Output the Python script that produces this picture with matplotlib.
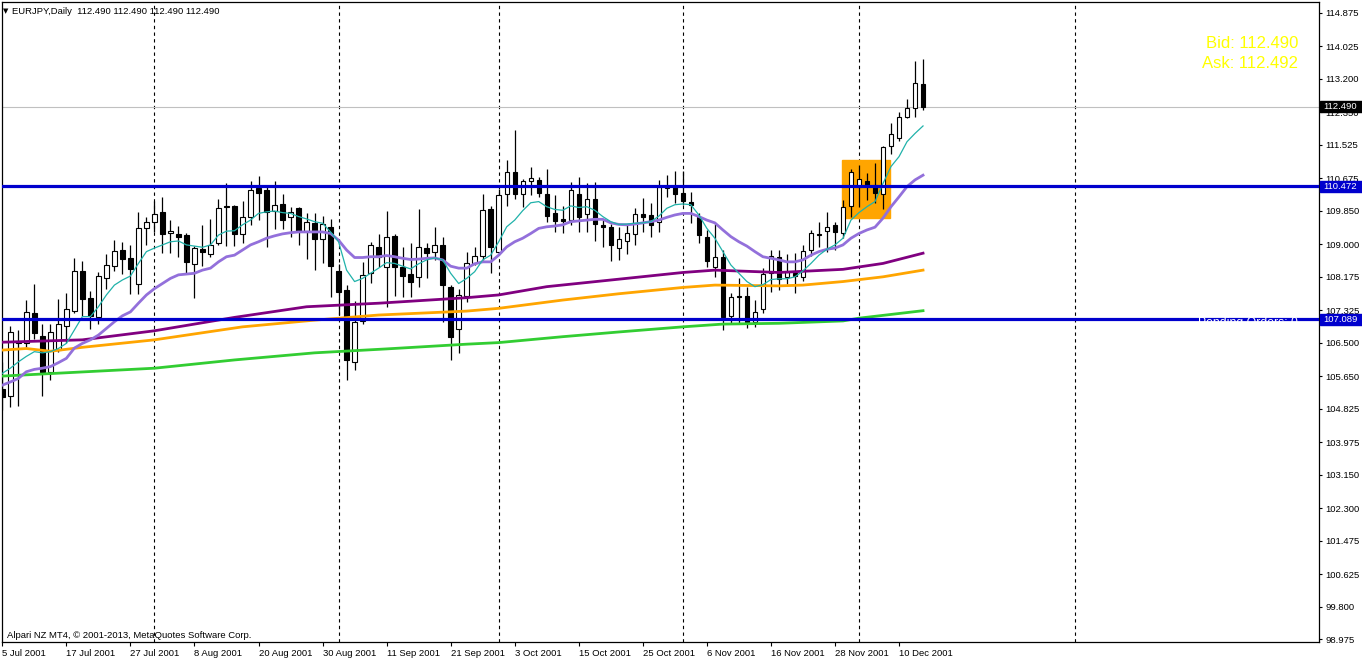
import numpy as np
import matplotlib.pyplot as plt
import matplotlib.transforms as mtransforms
from matplotlib.patches import Rectangle

# EURJPY daily bars, 5 Jul 2001 - 13 Dec 2001 (bar index 0..115)
opens = [105.32, 105.15, 106.50, 106.48, 107.24, 106.67, 105.76, 106.31, 106.92, 107.31,
         108.32, 107.64, 107.14, 108.13, 108.45, 108.85, 108.64, 108.00, 109.40, 109.57,
         109.81, 109.27, 109.26, 109.23, 108.49, 108.88, 108.74, 109.02, 109.97, 109.97,
         109.25, 109.68, 110.42, 110.37, 109.85, 110.02, 109.70, 109.91, 109.34, 109.54,
         109.14, 109.43, 108.32, 107.83, 106.00, 107.04, 108.26, 108.92, 108.43, 109.21,
         108.43, 108.24, 108.16, 108.90, 108.81, 108.97, 107.92, 106.84, 107.69, 108.51,
         108.71, 109.89, 108.79, 110.26, 110.83, 110.26, 110.61, 110.62, 110.26, 109.79,
         109.64, 109.61, 110.26, 109.76, 110.14, 109.48, 109.43, 108.89, 109.09, 109.26,
         109.76, 109.73, 109.55, 110.42, 110.46, 110.29, 110.06, 109.70, 109.18, 108.41,
         108.68, 107.18, 107.68, 107.68, 107.03, 107.35, 108.26, 108.68, 108.17, 108.26,
         108.16, 108.85, 109.26, 109.34, 109.49, 109.27, 109.97, 110.44, 110.59, 110.50,
         110.26, 111.50, 111.69, 112.24, 112.45, 113.06]
highs = [106.01, 106.93, 106.82, 107.58, 108.00, 106.97, 106.97, 107.61, 107.75, 108.64,
         108.58, 107.80, 108.30, 108.75, 109.10, 109.06, 108.98, 109.81, 109.70, 110.10,
         110.19, 109.61, 109.46, 109.27, 108.95, 109.49, 109.63, 110.14, 110.54, 110.00,
         110.09, 110.61, 110.74, 110.47, 110.60, 110.27, 109.95, 109.95, 109.78, 109.78,
         109.71, 109.63, 108.50, 107.96, 107.55, 108.55, 109.06, 109.26, 109.84, 109.25,
         108.92, 109.02, 109.88, 109.02, 109.43, 109.18, 107.95, 107.87, 108.81, 108.93,
         110.27, 109.97, 110.40, 111.14, 111.90, 110.65, 110.95, 110.70, 110.91, 110.24,
         109.98, 110.57, 110.70, 110.54, 110.57, 109.61, 109.52, 109.44, 109.49, 109.91,
         110.17, 110.04, 110.63, 110.75, 110.86, 110.85, 110.33, 109.80, 109.36, 109.51,
         108.85, 107.75, 108.13, 107.92, 107.58, 108.40, 108.84, 108.84, 108.75, 108.77,
         108.99, 109.36, 109.55, 109.82, 109.55, 110.12, 110.90, 111.00, 110.80, 111.05,
         111.50, 112.08, 112.35, 112.68, 113.65, 113.70]
lows = [104.79, 104.87, 104.90, 106.40, 106.58, 105.15, 105.55, 106.25, 106.48, 107.24,
        107.17, 106.84, 106.97, 107.87, 108.32, 108.24, 107.74, 107.74, 108.98, 109.31,
        108.78, 108.77, 108.68, 108.26, 107.62, 108.44, 108.68, 108.98, 108.95, 108.95,
        109.04, 109.49, 109.61, 108.93, 109.38, 109.38, 109.19, 108.98, 108.62, 108.34,
        108.51, 107.67, 107.20, 105.54, 105.80, 106.96, 108.02, 108.43, 107.41, 107.68,
        107.67, 107.67, 107.92, 108.13, 108.60, 107.03, 106.07, 106.23, 107.54, 108.46,
        108.60, 108.26, 108.75, 109.97, 110.15, 109.95, 110.25, 110.20, 109.57, 109.31,
        109.27, 109.49, 109.31, 109.31, 109.09, 108.93, 108.56, 108.60, 108.74, 108.98,
        109.31, 109.18, 109.31, 110.20, 110.05, 110.00, 109.54, 109.02, 108.43, 108.16,
        106.82, 106.97, 106.97, 106.86, 106.90, 107.24, 107.79, 107.83, 108.00, 107.75,
        108.07, 108.71, 108.93, 108.81, 108.85, 109.15, 109.70, 109.95, 110.12, 110.04,
        109.88, 111.28, 111.62, 112.20, 112.24, 112.40]
closes = [105.13, 106.76, 106.52, 107.28, 106.74, 105.76, 106.76, 106.97, 107.35, 108.32,
          107.60, 107.18, 108.18, 108.47, 108.82, 108.63, 108.37, 109.40, 109.55, 109.76,
          109.26, 109.33, 109.19, 108.55, 108.89, 108.79, 108.97, 109.91, 109.93, 109.25,
          109.68, 110.37, 110.31, 109.81, 109.99, 109.61, 109.81, 109.34, 109.56, 109.14,
          109.51, 108.45, 107.79, 106.06, 107.02, 108.21, 108.97, 108.68, 109.18, 108.41,
          108.20, 108.05, 108.92, 108.78, 108.97, 107.96, 106.65, 107.70, 108.53, 108.71,
          109.86, 108.93, 110.24, 110.83, 110.28, 110.59, 110.67, 110.30, 109.72, 109.59,
          109.59, 110.37, 109.70, 110.15, 109.50, 109.43, 108.98, 109.12, 109.27, 109.76,
          109.70, 109.49, 110.46, 110.47, 110.26, 110.10, 109.99, 109.22, 108.58, 108.67,
          107.16, 107.66, 107.66, 107.03, 107.28, 108.25, 108.71, 108.11, 108.28, 108.20,
          108.82, 109.27, 109.22, 109.44, 109.31, 109.95, 110.84, 110.65, 110.50, 110.30,
          111.47, 111.79, 112.22, 112.45, 113.08, 112.49]

# moving averages
ma_fast = [105.72, 105.85, 106.01, 106.15, 106.27, 106.24, 106.27, 106.35, 106.48, 106.82,
           107.16, 107.16, 107.41, 107.71, 107.96, 108.09, 108.19, 108.51, 108.81, 108.90,
           108.98, 109.06, 109.08, 108.98, 108.95, 108.92, 108.98, 109.23, 109.33, 109.34,
           109.49, 109.61, 109.78, 109.82, 109.84, 109.80, 109.78, 109.70, 109.64, 109.57,
           109.53, 109.31, 109.06, 108.34, 108.05, 108.13, 108.26, 108.39, 108.53, 108.51,
           108.44, 108.37, 108.50, 108.60, 108.65, 108.60, 108.26, 108.00, 108.13, 108.30,
           108.60, 108.72, 109.06, 109.44, 109.61, 109.85, 110.05, 110.08, 109.95, 109.88,
           109.86, 109.97, 109.93, 109.95, 109.86, 109.70, 109.57, 109.50, 109.51, 109.53,
           109.54, 109.57, 109.71, 109.91, 110.00, 110.02, 110.00, 109.74, 109.40, 109.15,
           108.81, 108.47, 108.26, 108.05, 107.92, 107.97, 108.10, 108.12, 108.12, 108.17,
           108.32, 108.51, 108.72, 108.87, 108.98, 109.15, 109.61, 109.80, 109.95, 110.08,
           110.54, 110.97, 111.22, 111.60, 111.81, 112.00]
ma_mid = [105.42, 105.50, 105.59, 105.76, 105.82, 105.85, 105.89, 105.99, 106.10, 106.36,
          106.48, 106.57, 106.69, 106.86, 107.03, 107.18, 107.28, 107.50, 107.71, 107.87,
          108.00, 108.13, 108.22, 108.24, 108.26, 108.34, 108.39, 108.55, 108.68, 108.72,
          108.85, 108.98, 109.06, 109.15, 109.21, 109.26, 109.29, 109.31, 109.31, 109.31,
          109.31, 109.27, 109.10, 108.85, 108.66, 108.66, 108.68, 108.68, 108.71, 108.68,
          108.64, 108.61, 108.62, 108.64, 108.65, 108.60, 108.44, 108.39, 108.39, 108.50,
          108.55, 108.55, 108.72, 108.93, 109.06, 109.15, 109.27, 109.40, 109.44, 109.46,
          109.49, 109.57, 109.59, 109.61, 109.63, 109.63, 109.54, 109.50, 109.49, 109.51,
          109.54, 109.57, 109.61, 109.68, 109.74, 109.78, 109.78, 109.70, 109.61, 109.54,
          109.36, 109.19, 109.06, 108.95, 108.81, 108.68, 108.64, 108.60, 108.55, 108.55,
          108.60, 108.72, 108.81, 108.87, 108.90, 108.98, 109.15, 109.27, 109.36, 109.43,
          109.66, 109.95, 110.20, 110.46, 110.63, 110.75]

# slow averages only read at a few bars
ma100_bars = [0, 10, 19, 29, 38, 47, 58, 62, 68, 77, 85, 89, 97, 105, 110, 115]
ma100 = [106.51, 106.57, 106.80, 107.14, 107.41, 107.50, 107.64, 107.71, 107.92, 108.11,
         108.28, 108.34, 108.28, 108.36, 108.51, 108.77]
ma150_bars = [0, 3, 6, 10, 19, 30, 39, 47, 58, 62, 70, 77, 85, 89, 97, 100, 105, 110, 115]
ma150 = [106.31, 106.35, 106.28, 106.38, 106.57, 106.90, 107.07, 107.20, 107.30, 107.37,
         107.58, 107.74, 107.90, 107.96, 107.94, 107.96, 108.05, 108.17, 108.34]
ma200_bars = [0, 19, 29, 39, 48, 58, 62, 70, 77, 85, 90, 97, 105, 107, 115]
ma200 = [105.65, 105.85, 106.06, 106.24, 106.34, 106.46, 106.50, 106.65, 106.77, 106.90,
         106.97, 106.99, 107.05, 107.12, 107.31]

date_labels = ['5 Jul 2001', '17 Jul 2001', '27 Jul 2001', '8 Aug 2001', '20 Aug 2001',
               '30 Aug 2001', '11 Sep 2001', '21 Sep 2001', '3 Oct 2001', '15 Oct 2001',
               '25 Oct 2001', '6 Nov 2001', '16 Nov 2001', '28 Nov 2001', '10 Dec 2001']
date_bars = [0, 8, 16, 24, 32, 40, 48, 56, 64, 72, 80, 88, 96, 104, 112]
month_bars = [19, 42, 62, 85, 107, 134]
price_ticks = [114.875, 114.025, 113.200, 112.350, 111.525, 110.675, 109.850, 109.000,
               108.175, 107.325, 106.500, 105.650, 104.825, 103.975, 103.150, 102.300,
               101.475, 100.625, 99.800, 98.975]
support = 107.089
resistance = 110.472
bid = 112.490
ask = 112.492
box_bars = [104.9, 110.9]
box_prices = [109.67, 111.14]

W, H = 1362, 660
font = ['Liberation Sans', 'DejaVu Sans']
plt.rcParams['font.family'] = font

fig = plt.figure(figsize=(W / 100, H / 100), dpi=100)
ax = fig.add_axes([2 / W, 1 - 642 / H, 1317 / W, 640 / H])

x = np.arange(len(closes))
o = np.array(opens)
c = np.array(closes)
up = c >= o

# orange zone behind the candles
ax.add_patch(Rectangle((box_bars[0], box_prices[0]), box_bars[1] - box_bars[0],
                       box_prices[1] - box_prices[0], color='#FFA500', zorder=1))

for b in month_bars:
    ax.axvline(b, color='black', lw=0.8, linestyle=(0, (3, 3)), zorder=0.5)

ax.axhline(bid, color='#C0C0C0', lw=0.8, zorder=1.5)

# candles
ax.vlines(x, lows, highs, color='black', lw=0.9, zorder=2)
ax.bar(x[up], (c - o)[up], bottom=o[up], width=0.55, color='white',
       edgecolor='black', linewidth=0.8, zorder=3)
ax.bar(x[~up], (o - c)[~up], bottom=c[~up], width=0.55, color='black',
       edgecolor='black', linewidth=0.8, zorder=3)

# moving averages
ax.plot(ma200_bars, ma200, color='#32CD32', lw=2, zorder=4)
ax.plot(ma150_bars, ma150, color='#FFA500', lw=2, zorder=4)
ax.plot(ma100_bars, ma100, color='#800080', lw=2, zorder=4)
ax.plot(x, ma_mid, color='#9370DB', lw=2, zorder=4)
ax.plot(x, ma_fast, color='#20B2AA', lw=0.9, zorder=4)

ax.axhline(resistance, color='#0000CD', lw=2.3, zorder=5)
ax.axhline(support, color='#0000CD', lw=2.3, zorder=5)

ax.set_xlim(-0.04, 164.46)
ax.set_ylim(98.899, 115.147)

ax.yaxis.tick_right()
ax.set_yticks(price_ticks)
ax.set_yticklabels(['%.3f' % p for p in price_ticks])
ax.tick_params(axis='y', direction='out', length=2.5, width=0.8, pad=2, labelsize=6.8)
ax.set_xticks(date_bars)
ax.set_xticklabels(date_labels, ha='left')
ax.tick_params(axis='x', direction='out', length=3, width=0.8, pad=2, labelsize=6.8)
for s in ax.spines.values():
    s.set_linewidth(0.9)

# price tags on the right scale
tr = mtransforms.blended_transform_factory(fig.transFigure, ax.transData)
for p, col, txt in [(resistance, '#0000CD', '110.472'), (support, '#0000CD', '107.089'),
                    (bid, 'black', '112.490')]:
    fig.add_artist(Rectangle((1320 / W, p - 0.14), 42 / W, 0.28, transform=tr,
                             color=col, zorder=5))
    fig.text(1323 / W, p, txt, transform=tr, color='white', fontsize=6.8,
             va='center', ha='left', zorder=6)

fig.text(1298 / W, 1 - 43 / H, 'Bid: 112.490', color='#FFFF00', fontsize=12,
         ha='right', va='center')
fig.text(1298 / W, 1 - 63 / H, 'Ask: 112.492', color='#FFFF00', fontsize=12,
         ha='right', va='center')
fig.text(1298 / W, 1 - 317 / H, 'Pending Orders: 0', color='white', fontsize=8.8,
         ha='right', va='top', zorder=7)

fig.text(3 / W, 1 - 11 / H, '\u25bc', fontsize=5, va='center', ha='left',
         family=['DejaVu Sans'])
fig.text(12 / W, 1 - 11 / H, 'EURJPY,Daily  112.490 112.490 112.490 112.490',
         fontsize=6.8, va='center', ha='left')
fig.text(7 / W, 1 - 635 / H, 'Alpari NZ MT4, \u00a9 2001-2013, MetaQuotes Software Corp.',
         fontsize=6.8, va='center', ha='left')

fig.savefig('out.png', dpi=100)
